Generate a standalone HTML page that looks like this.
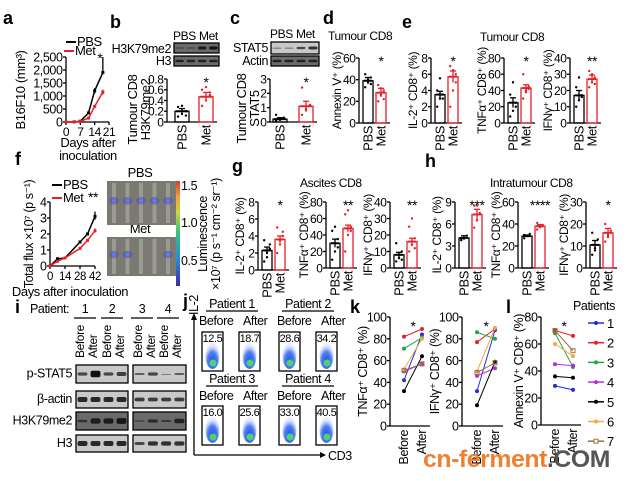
<!DOCTYPE html>
<html><head><meta charset="utf-8"><style>
html,body{margin:0;padding:0;background:#fff;}
svg{display:block;font-family:"Liberation Sans",Arial,sans-serif;}
svg text{letter-spacing:-0.4px;}
</style></head><body>
<svg id="fig" width="628" height="481" viewBox="0 0 628 481" xmlns="http://www.w3.org/2000/svg">
<defs>
<linearGradient id="cbar" x1="0" y1="1" x2="0" y2="0">
<stop offset="0" stop-color="#3a2ab0"/><stop offset="0.25" stop-color="#2a8ad8"/><stop offset="0.5" stop-color="#30c080"/><stop offset="0.7" stop-color="#c8d840"/><stop offset="0.85" stop-color="#f0a040"/><stop offset="1" stop-color="#d04030"/>
</linearGradient>
<radialGradient id="flow" cx="0.5" cy="0.7" r="0.6">
<stop offset="0" stop-color="#2050e0"/><stop offset="0.6" stop-color="#5080f0"/><stop offset="1" stop-color="#c0d0ff" stop-opacity="0.4"/>
</radialGradient>
<radialGradient id="blob"><stop offset="0" stop-color="#6090ff"/><stop offset="1" stop-color="#3020c0" stop-opacity="0.2"/></radialGradient>
</defs>
</svg>
<script>
// ---------- data ----------
const aDays=[0,4,7,11,14,18];
const aPBS=[0,5,30,350,1200,1900];
const aMet=[0,5,20,150,600,1150];
const aTicks=[0,500,1000,1500,2000,2500];
const aTickLabels=['0','500','1,000','1,500','2,000','2,500'];
const fDays=[0,7,14,28,35,42];
const fPBS=[0,0.45,0.5,1.5,2.0,3.1];
const fMet=[0,0.3,0.5,1.1,1.6,2.2];
const fTicks=[0,1,2,3,4];
const barMeans={b:[0.2,0.47],c:[0.2,1.1],d:[39,28],e1:[3.5,5.7],e2:[25,43],e3:[17,27],g1:[2.3,3.6],g2:[30,48],g3:[8,16],h1:[4.1,7.3],h2:[29,38],h3:[10.5,16]};
const barErrs={b:[0.05,0.08],c:[0.1,0.35],d:[3,4],e1:[0.4,0.7],e2:[6,4],e3:[3,2.5],g1:[0.4,0.4],g2:[5,4],g3:[1.5,2],h1:[0.3,0.7],h2:[1,1.5],h3:[2,2]};
const dotsPBS={b:[0.1,0.15,0.2,0.28,0.3,0.12],c:[0.1,0.2,0.3,0.5,0.15],d:[33,38,42,45,40,36],e1:[2,3,3.5,4,5.5,3],e2:[8,15,25,35,50,20],e3:[10,14,17,22,28,16],g1:[1,2,3,3.5,1.5,2.5],g2:[10,20,35,45,50,25],g3:[4,6,10,15,8,5],h1:[3.8,4.1,4.4,4.0],h2:[27,29,31,30],h3:[6,9,13,16,8]};
const dotsMet={b:[0.3,0.4,0.5,0.6,0.65,0.55],c:[0.5,0.8,1.2,2.4,0.9],d:[20,26,30,35,32,22],e1:[2,4,6,7,6.5,5],e2:[30,40,45,60,38,42],e3:[22,25,28,32,30,24],g1:[2,3,4,5,3.5,4.5],g2:[20,40,50,65,70,45],g3:[10,14,18,25,30,12],h1:[5.5,6.5,7.5,8.5,8.5],h2:[35,37,39,41,38],h3:[12,14,17,20,15]};
const patients=['1','2','3','4','5','6','7'];
const pColors=['#2030d0','#e62129','#20a840','#b030e0','#000000','#f0a848','#a07040'];
const kTNFBefore=[42,82,71,50,32,52,51];
const kTNFAfter=[84,89,81,57,64,80,57];
const kIFNBefore=[32,77,86,46,19,50,49];
const kIFNAfter=[88,89,80,53,59,90,58];
const lAnxBefore=[29,70,68,45,36,60,70];
const lAnxAfter=[26,66,43,44,35,51,55];
const kTicks=[0,20,40,60,80,100];
const lTicks=[0,20,40,60,80];
const flowVals=['12.5','18.7','28.6','34.2','16.0','25.6','33.0','40.5'];

// ---------- helpers ----------
const NS='http://www.w3.org/2000/svg';
const svg=document.getElementById('fig');
function mk(tag,attrs,name,parent,txt){
  const el=document.createElementNS(NS,tag);
  for(const k in attrs) el.setAttribute(k,attrs[k]);
  
  
  if(txt!==undefined) el.textContent=txt;
  (parent||svg).appendChild(el);
  return el;
}
function txt(x,y,s,size,name,opt){
  opt=opt||{};
  const a={x:x,y:y,'font-size':size,fill:opt.fill||'#000'};
  if(opt.anchor) a['text-anchor']=opt.anchor;
  if(opt.weight) a['font-weight']=opt.weight;
  if(opt.rot!==undefined) a.transform='rotate('+opt.rot+' '+x+' '+y+')';
  return mk('text',a,name,opt.parent,s);
}
function line(x1,y1,x2,y2,name,col,w){return mk('line',{x1:x1,y1:y1,x2:x2,y2:y2,stroke:col||'#000','stroke-width':w||1.3},name);}
function letter(x,y,s){txt(x,y,s,18,'panel-label-'+s.replace(/[^a-z]/g,''),{weight:'bold'});}

function yAxis(ax,yTop,y0,ticks,labels,max,fs,name){
  const sc=v=>y0-v/max*(y0-yTop);
  line(ax,yTop,ax,y0,name+'-y-axis');
  ticks.forEach((t,i)=>{
    line(ax-3,sc(t),ax,sc(t),name+'-tick');
    txt(ax-3.5,sc(t)+fs*0.36,labels[i],fs,name+'-tick-label',{anchor:'end'});
  });
  return sc;
}

function barPanel(key,ax,yTop,y0,max,ticks,ylab,star,o){
  o=o||{};
  const fs=o.fs||12, bw=o.bw||10, off1=o.off1||4, off2=o.off2||17;
  const sc=yAxis(ax,yTop,y0,ticks,ticks.map(String),max,fs,'panel-'+key);
  const right=ax+off2+bw+4;
  line(ax,y0,right,y0,'panel-'+key+'-x-axis');
  const m=barMeans[key], e=barErrs[key];
  [[off1,'#000',dotsPBS[key],'pbs'],[off2,'#e62129',dotsMet[key],'met']].forEach((b,i)=>{
    const x=ax+b[0];
    mk('rect',{x:x,y:sc(m[i]),width:bw,height:y0-sc(m[i]),fill:'none',stroke:b[1],'stroke-width':1.3},'bar-'+key+'-'+b[3]);
    b[2].forEach((v,j)=>{
      mk('circle',{cx:x+bw/2+((j%3)-1)*bw*0.28,cy:sc(v),r:1.2,fill:b[1]},'dot-'+key+'-'+b[3]);
    });
    line(x+bw/2,sc(m[i]-e[i]),x+bw/2,sc(m[i]+e[i]),'error-bar-'+key+'-'+b[3],b[1],1.3);
    line(x+bw/2-3,sc(m[i]+e[i]),x+bw/2+3,sc(m[i]+e[i]),'error-cap-'+key,b[1],1.3);
    line(x+1,sc(m[i]),x+bw-1,sc(m[i]),'mean-'+key,b[1],2);
    txt(x+bw/2+4.5,y0+3,i?'Met':'PBS',fs+1,'x-label-'+key+'-'+b[3],{anchor:'end',rot:-90});
  });
  if(star) txt(ax+off2+bw/2+(o.starDx||0),yTop+8,star,14,'significance-'+key,{anchor:'middle'});
  const lx=ax-(o.labDx||17);
  if(Array.isArray(ylab)){
    txt(lx-fs-1,(yTop+y0)/2+(o.labDy||0),ylab[0],fs+1,'y-title-'+key,{anchor:'middle',rot:-90});
    txt(lx,(yTop+y0)/2+(o.labDy||0),ylab[1],fs+1,'y-title-'+key+'-2',{anchor:'middle',rot:-90});
  } else txt(lx,(yTop+y0)/2+(o.labDy||0),ylab,fs,'y-title-'+key,{anchor:'middle',rot:-90});
}

function blot(x,y,w,h,bands,name,light){
  mk('rect',{x:x,y:y,width:w,height:h,fill:light?'#c8c8c8':'#6a6a6a',stroke:'#000','stroke-width':1.3},name);
  const n=bands.length,cw=w/n;
  bands.forEach((b,i)=>{
    mk('rect',{x:x+i*cw+cw*0.12,y:y+h/2-h*0.18*b,width:cw*0.76,height:Math.max(1,h*0.36*b),rx:2,fill:'#111',opacity:0.4+0.6*b},name+'-band');
  });
}

// ---------- panel a ----------
letter(3,24,'a');
(function(){
  const ax=66,yTop=57,y0=122,xR=109;
  const sc=yAxis(ax,yTop,y0,aTicks,aTickLabels,2500,12.5,'panel-a');
  const xs=d=>ax+d/21*(xR-ax);
  line(ax,y0,xR,y0,'panel-a-x-axis');
  [0,7,14,21].forEach(d=>{line(xs(d),y0,xs(d),y0+3,'panel-a-x-tick');txt(xs(d),y0+14,String(d),12,'panel-a-x-tick-label',{anchor:'middle'});});
  [[aPBS,'#000','pbs'],[aMet,'#e62129','met']].forEach(s=>{
    mk('polyline',{points:aDays.map((d,i)=>xs(d)+','+sc(s[0][i])).join(' '),fill:'none',stroke:s[1],'stroke-width':1.5},'line-a-'+s[2]);
    aDays.forEach((d,i)=>mk('rect',{x:xs(d)-1.5,y:sc(s[0][i])-1.5,width:3,height:3,fill:s[1]},'point-a-'+s[2]));
  });
  line(xs(18),sc(1900),xs(18),sc(2500),'error-a-pbs');
  line(xs(14),sc(1100),xs(14),sc(1300),'error-a-pbs');
  line(xs(18),sc(1050),xs(18),sc(1250),'error-a-met','#e62129');
  txt(xs(18)-3,sc(2500)+6,'*',14,'significance-a',{anchor:'middle'});
  line(66,42,76,42,'legend-a-pbs-line','#000',2);txt(77,46,'PBS',13,'legend-a-pbs');
  line(64,51,74,51,'legend-a-met-line','#e62129',2);txt(75,55,'Met',13,'legend-a-met');
  txt(25,90,'B16F10 (mm³)',13,'y-title-a',{anchor:'middle',rot:-90});
  txt(88,147,'Days after',13,'x-title-a',{anchor:'middle'});
  txt(88,160,'inoculation',13,'x-title-a-2',{anchor:'middle'});
})();

// ---------- panel b ----------
letter(110,28,'b');
txt(173,40,'PBS',12,'blot-b-pbs');txt(199,40,'Met',12,'blot-b-met');
blot(174,43,45,10,[0.3,0.3,0.8,0.9],'blot-b-h3k79me2');
blot(174,56,45,10,[0.7,0.7,0.7,0.7],'blot-b-h3');
txt(171,53,'H3K79me2',12.5,'blot-b-label-1',{anchor:'end'});
txt(171,65,'H3',12.5,'blot-b-label-2',{anchor:'end'});
barPanel('b',167,79,122,0.8,[0,0.2,0.4,0.6,0.8],['Tumour CD8','H3K79me2'],'*',{bw:14,off1:8,off2:32,fs:12,labDx:17,labDy:9});

// ---------- panel c ----------
letter(230,24,'c');
txt(270,38,'PBS',12,'blot-c-pbs');txt(296,38,'Met',12,'blot-c-met');
blot(271,42,48,12,[0.2,0.2,0.5,0.7],'blot-c-stat5',true);
blot(271,56,48,10,[0.7,0.7,0.7,0.7],'blot-c-actin');
txt(268,52,'STAT5',12.5,'blot-c-label-1',{anchor:'end'});
txt(268,65,'Actin',12.5,'blot-c-label-2',{anchor:'end'});
barPanel('c',270,79,122,3,[0,1,2,3],['Tumour CD8','STAT5'],'*',{bw:14,off1:3,off2:29,fs:12,labDx:11,labDy:8});

// ---------- panel d ----------
letter(323,24,'d');
txt(328,40,'Tumour CD8',12,'title-d');
barPanel('d',359,58,123,60,[0,20,40,60],'Annexin V⁺ (%)','*',{labDx:18});

// ---------- panel e ----------
letter(402,28,'e');
txt(480,41,'Tumour CD8',12,'title-e');
barPanel('e1',431,58,123,8,[0,2,4,6,8],'IL-2⁺ CD8⁺ (%)','*',{labDx:14});
barPanel('e2',504,58,123,80,[0,20,40,60,80],'TNFα⁺ CD8⁺ (%)','*',{labDx:18});
barPanel('e3',570,58,123,40,[0,10,20,30,40],'IFNγ⁺ CD8⁺ (%)','**',{labDx:18});

// ---------- panel f ----------
letter(15,165,'f');
(function(){
  const ax=50,yTop=202,y0=266,xR=95;
  const sc=yAxis(ax,yTop,y0,fTicks,fTicks.map(String),4,12.5,'panel-f');
  const xs=d=>ax+d/42*(xR-ax);
  line(ax,y0,xR,y0,'panel-f-x-axis');
  [0,14,28,42].forEach(d=>{line(xs(d),y0,xs(d),y0+3,'panel-f-x-tick');txt(xs(d),y0+14,String(d),11.5,'panel-f-x-tick-label',{anchor:'middle'});});
  [[fPBS,'#000','pbs'],[fMet,'#e62129','met']].forEach(s=>{
    mk('polyline',{points:fDays.map((d,i)=>xs(d)+','+sc(s[0][i])).join(' '),fill:'none',stroke:s[1],'stroke-width':1.5},'line-f-'+s[2]);
    fDays.forEach((d,i)=>mk('rect',{x:xs(d)-1.5,y:sc(s[0][i])-1.5,width:3,height:3,fill:s[1]},'point-f-'+s[2]));
  });
  line(xs(42),sc(2.9),xs(42),sc(3.4),'error-f-pbs');
  line(xs(42),sc(2.1),xs(42),sc(2.35),'error-f-met','#e62129');
  line(52,185,62,185,'legend-f-pbs-line','#000',2);txt(63,189,'PBS',13,'legend-f-pbs');
  line(52,198,62,198,'legend-f-met-line','#e62129',2);txt(63,202,'Met',13,'legend-f-met');
  txt(88,202,'**',14,'significance-f');
  txt(33,234,'Total flux ×10⁷ (p s⁻¹)',12.5,'y-title-f',{anchor:'middle',rot:-90});
  txt(70,296,'Days after inoculation',13,'x-title-f',{anchor:'middle'});
  txt(140,177,'PBS',13,'image-label-pbs',{anchor:'middle'});
  txt(140,233,'Met',13,'image-label-met',{anchor:'middle'});
  [[181,225,'pbs',[1,1,1,1,1]],[237,276,'met',[1,1,0,0,1]]].forEach(r=>{
    mk('rect',{x:107,y:r[0],width:69,height:r[1]-r[0],fill:'#7a7a72'},'bioluminescence-image-'+r[2]);
    for(let i=0;i<5;i++){
      const cx=114+i*13.5;
      mk('rect',{x:cx-2,y:r[0]+2,width:4,height:r[1]-r[0]-4,fill:'#b0b0a8',opacity:0.6},'mouse-'+r[2]);
      if(r[3][i]) mk('ellipse',{cx:cx,cy:r[0]+(r[1]-r[0])*0.45,rx:5,ry:4,fill:'url(#blob)'},'signal-'+r[2]);
    }
  });
  mk('rect',{x:176,y:181,width:4,height:105,fill:'url(#cbar)'},'colorbar');
  txt(181,190,'1.5',12.5,'colorbar-label');txt(181,227,'1.0',12.5,'colorbar-label');txt(181,265,'0.5',12.5,'colorbar-label');
  txt(207,234,'Luminescence',12.5,'colorbar-title',{anchor:'middle',rot:-90});
  txt(220,234,'×10⁷ (p s⁻¹ cm⁻² sr⁻¹)',12.5,'colorbar-title-2',{anchor:'middle',rot:-90});
})();

// ---------- panel g ----------
letter(232,172,'g');
txt(300,187,'Ascites CD8',12,'title-g');
barPanel('g1',258,202,270,8,[0,2,4,6,8],'IL-2⁺ CD8⁺ (%)','*',{labDx:14});
barPanel('g2',326,202,268,80,[0,20,40,60,80],'TNFα⁺ CD8⁺ (%)','**',{labDx:18});
barPanel('g3',390,202,268,40,[0,10,20,30,40],'IFNγ⁺ CD8⁺ (%)','**',{labDx:18});

// ---------- panel h ----------
letter(425,167,'h');
txt(490,187,'Intratumour CD8',12,'title-h');
barPanel('h1',455,202,268,9,[0,3,6,9],'IL-2⁺ CD8⁺ (%)','***',{labDx:14});
barPanel('h2',518,202,268,60,[0,20,40,60],'TNFα⁺ CD8⁺ (%)','****',{labDx:18});
barPanel('h3',586,202,268,30,[0,10,20,30],'IFNγ⁺ CD8⁺ (%)','*',{labDx:18});

// ---------- panel i ----------
letter(15,313,'i');
txt(30,313,'Patient:',12.5,'patient-header');
['1','2','3','4'].forEach((p,i)=>{
  const cx=[85,112,142,168][i];
  txt(cx,313,p,12.5,'patient-number',{anchor:'middle'});
  line(cx-11,318,cx+11,318,'patient-underline');
});
['Before','After','Before','After','Before','After','Before','After'].forEach((s,i)=>{
  const x=[80,93,107,120,138,151,164,177][i];
  txt(x+4,358,s,12,'lane-label',{rot:-90});
});
const blotRows=[['p-STAT5',365,18,[0.5,1,0.5,0.6],[0.3,0.5,0.05,0.3],true],['β-actin',391,17,[0.8,0.8,0.8,0.8],[0.6,0.6,0.6,0.6],true],['H3K79me2',412,18,[0.4,0.8,0.8,0.9],[0.2,0.5,0.3,0.7],false],['H3',435,17,[0.8,0.8,0.8,0.8],[0.5,0.7,0.7,0.7],true]];
blotRows.forEach(r=>{
  txt(72,r[1]+r[2]*0.7,r[0],12.5,'blot-i-label',{anchor:'end'});
  blot(76,r[1],52,r[2],r[3],'blot-i-left',r[5]);
  blot(133,r[1],53,r[2],r[4],'blot-i-right',r[5]);
});

// ---------- panel j ----------
letter(183,307,'j');
[['Patient 1',232,308],['Patient 2',308,308],['Patient 3',232,383],['Patient 4',308,383]].forEach(p=>{
  txt(p[1],p[2],p[0],12.5,'patient-title',{anchor:'middle'});
  line(p[1]-26,p[2]+3,p[1]+26,p[2]+3,'patient-title-underline');
});
[[0,200],[1,240],[2,278],[3,318]].forEach(c=>{
  txt(c[1]+(c[0]%2?3:-1),325,c[0]%2?'After':'Before',12.5,'flow-column-label');
  txt(c[1]+(c[0]%2?3:-1),400,c[0]%2?'After':'Before',12.5,'flow-column-label');
});
[[202,332],[239,332],[279,332],[316,332],[202,406],[239,406],[279,406],[316,406]].forEach((b,i)=>{
  mk('rect',{x:b[0],y:b[1],width:21,height:39,fill:'#fff',stroke:'#000','stroke-width':1.3},'flow-plot');
  mk('ellipse',{cx:b[0]+10.5,cy:b[1]+24,rx:7,ry:13,fill:'url(#flow)'},'flow-density');
  mk('circle',{cx:b[0]+11,cy:b[1]+31,r:3.5,fill:'#50d070'},'flow-core');
  txt(b[0]+10.5,b[1]+10,flowVals[i],11,'flow-percentage',{anchor:'middle'});
});
line(194,455,322,455,'cd3-axis-arrow');
mk('polygon',{points:'326,455 320,452 320,458',fill:'#000'},'cd3-arrowhead');
line(194,455,194,318,'il2-axis-arrow');
mk('polygon',{points:'194,313 191,320 197,320',fill:'#000'},'il2-arrowhead');
txt(328,460,'CD3',12.5,'x-title-j');
txt(198,305,'IL-2',12.5,'y-title-j',{anchor:'middle',rot:-90});

// ---------- panels k / l ----------
function slope(ax,yTop,y0,max,ticks,xb,xa,before,after,ylab,key,labDx){
  const sc=yAxis(ax,yTop,y0,ticks,ticks.map(String),max,12.5,'panel-'+key);
  line(ax,y0,xa+8,y0,'panel-'+key+'-x-axis');
  before.forEach((v,i)=>{
    mk('line',{x1:xb,y1:sc(v),x2:xa,y2:sc(after[i]),stroke:pColors[i],'stroke-width':1},'slope-'+key+'-patient-'+patients[i]);
    [[xb,v],[xa,after[i]]].forEach(p=>{
      if(i===6) mk('rect',{x:p[0]-2,y:sc(p[1])-2,width:4,height:4,fill:'none',stroke:pColors[i]},'point-'+key+'-patient-'+patients[i]);
      else mk('circle',{cx:p[0],cy:sc(p[1]),r:2,fill:pColors[i]},'point-'+key+'-patient-'+patients[i]);
    });
  });
  txt(xb+4,y0+4,'Before',12.5,'x-label-'+key+'-before',{anchor:'end',rot:-90});
  txt(xa+4,y0+4,'After',12.5,'x-label-'+key+'-after',{anchor:'end',rot:-90});
  txt((xb+xa)/2,yTop+14,'*',14,'significance-'+key,{anchor:'middle'});
  txt(ax-labDx,(yTop+y0)/2,ylab,12.5,'y-title-'+key,{anchor:'middle',rot:-90});
}
letter(350,313,'k');
slope(390,317,426,100,kTicks,404,422,kTNFBefore,kTNFAfter,'TNFα⁺ CD8⁺ (%)','k1',23);
slope(462,317,426,100,kTicks,477,495,kIFNBefore,kIFNAfter,'IFNγ⁺ CD8⁺ (%)','k2',23);
letter(506,313,'l');
slope(541,317,425,80,lTicks,555,573,lAnxBefore,lAnxAfter,'Annexin V⁺ CD8⁺ (%)','l',18);
txt(573,310,'Patients',12.5,'legend-title');
patients.forEach((p,i)=>{
  const y=323+i*19.7;
  line(588,y,604,y,'legend-swatch-'+p,pColors[i],1.5);
  if(i===6) mk('rect',{x:594,y:y-2,width:4,height:4,fill:'#fff',stroke:pColors[i]},'legend-marker-'+p);
  else mk('circle',{cx:596,cy:y,r:2,fill:pColors[i]},'legend-marker-'+p);
  txt(607,y+5,p,13,'legend-entry-'+p);
});

// ---------- watermark ----------
const wm=mk('text',{x:423,y:467,'font-size':24,'font-weight':'bold',fill:'#f08030',textLength:187,lengthAdjust:'spacingAndGlyphs'},'watermark');
const wm1=mk('tspan',{},'watermark-cn',wm,'cn-ferment');
const wm2=mk('tspan',{fill:'#555'},'watermark-com',wm,'.COM');
</script>
</body></html>
